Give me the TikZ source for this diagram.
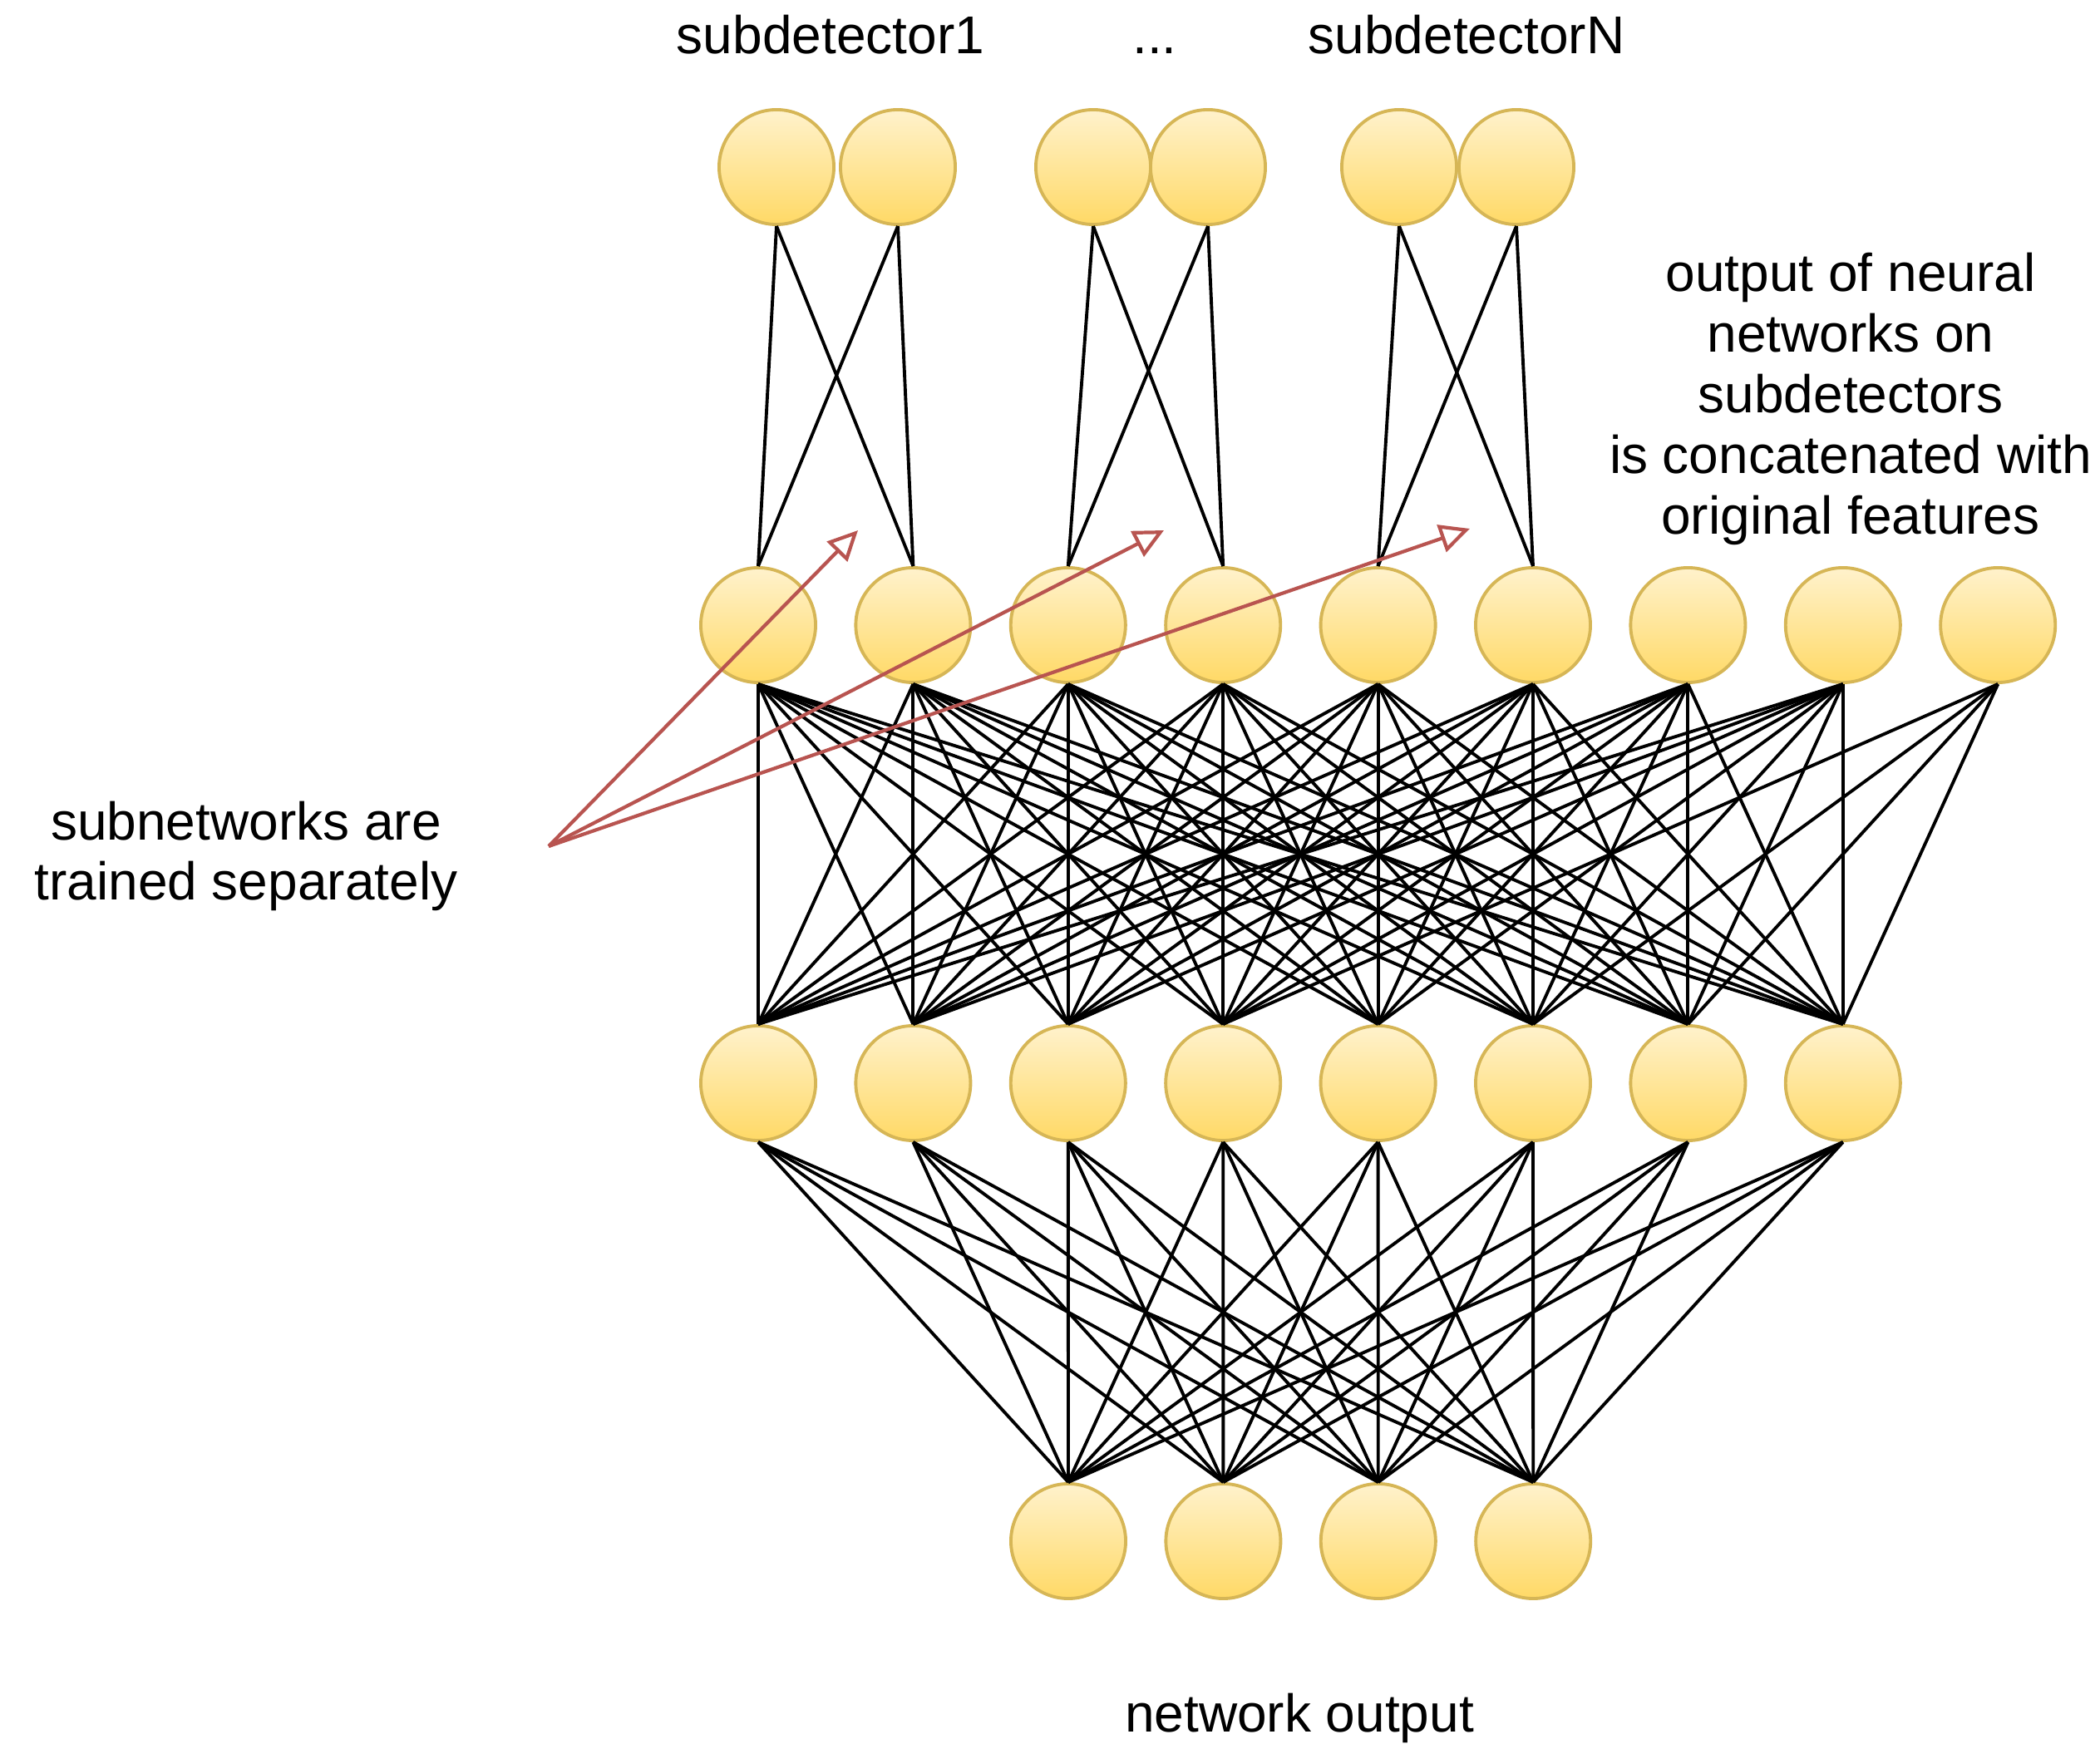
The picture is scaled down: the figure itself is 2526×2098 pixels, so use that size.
\documentclass[tikz,border=0pt]{standalone}
\usepackage{fontspec}
\setmainfont{Liberation Sans}
\usepackage{tikz}
\usetikzlibrary{arrows.meta}

\definecolor{nodetop}{HTML}{FFF2CC}
\definecolor{nodebot}{HTML}{FFD966}
\definecolor{nodeline}{HTML}{D6B656}
\definecolor{hintred}{HTML}{B85450}

\begin{document}
\begin{tikzpicture}[
    x=0.01cm, y=-0.01cm,
    neuron/.style={circle, draw=nodeline, line width=1.1pt, top color=nodetop, bottom color=nodebot, minimum size=1.38cm, inner sep=0pt},
    link/.style={line width=1.1pt, black},
    hint/.style={-{Triangle[open, length=0.36cm, width=0.34cm]}, line width=1.2pt, hintred},
    lbl/.style={font=\fontsize{18.2}{20.7}\selectfont, inner sep=0pt, align=center}
]
\useasboundingbox (0,0) rectangle (2526,2098);

% layers
\foreach \k/\x in {1/934,2/1080,3/1315,4/1453,5/1683,6/1824}
    \node[neuron] (sub\k) at (\x,201) {};
\foreach \k in {1,...,9}
    \node[neuron] (cat\k) at ({912+(\k-1)*186.4},752) {};
\foreach \k in {1,...,8}
    \node[neuron] (hid\k) at ({912+(\k-1)*186.4},1303) {};
\foreach \k in {1,...,4}
    \node[neuron] (out\k) at ({1285+(\k-1)*186.4},1854) {};

% connections
\foreach \i/\j in {1/1,1/2,2/1,2/2,3/3,3/4,4/3,4/4,5/5,5/6,6/5,6/6}
    \draw[link] (sub\i.south) -- (cat\j.north);
\foreach \i in {1,...,8}
    \foreach \j in {1,...,8}
        \draw[link] (cat\i.south) -- (hid\j.north);
\foreach \j in {4,6,7,8}
    \draw[link] (cat9.south) -- (hid\j.north);
\foreach \i in {1,...,8}
    \foreach \j in {1,...,4}
        \draw[link] (hid\i.south) -- (out\j.north);

% labels
\node[lbl, anchor=base] (lsub1) at (999,65) {subdetector1};
\node[lbl, anchor=base] (ldots) at (1389,65) {...};
\node[lbl, anchor=base] (lsubN) at (1764,65) {subdetectorN};
\node[lbl] (lconcat) at (2226,480) {output of neural\\networks on\\subdetectors\\is concatenated with\\original features};
\node[lbl] (lsep) at (296,1030) {subnetworks are\\trained separately};
\node[lbl, anchor=base] (lout) at (1563,2083) {network output};

% red hints
\coordinate (fan) at (660,1018);
\coordinate (tip1) at (1032,638);
\coordinate (tip2) at (1400,638);
\coordinate (tip3) at (1768,636);
\foreach \k in {1,2,3}
    \draw[hint] (fan) -- (tip\k);
\end{tikzpicture}
\end{document}
